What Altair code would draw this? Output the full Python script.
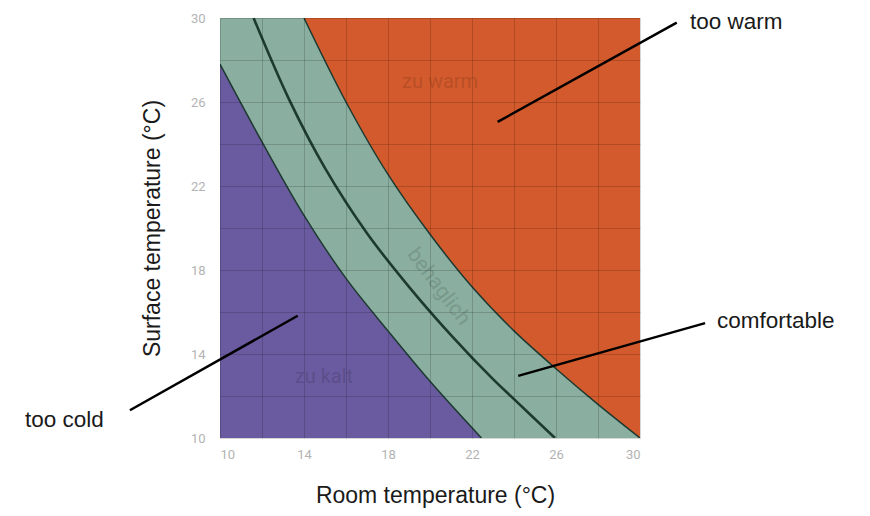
import altair as alt
import pandas as pd

# ---- data ----
grid_values = [10, 12, 14, 16, 18, 20, 22, 24, 26, 28, 30]

lower_x = [10, 12, 14, 16, 18, 20, 22.45]
lower_y = [27.8, 24.1, 20.6, 17.6, 15.1, 12.7, 10]

mid_x = [11.6, 13.3, 15, 17, 19, 21, 23, 24, 25.95]
mid_y = [30, 26.1, 22.85, 19.75, 17.2, 14.9, 12.8, 11.85, 10]

upper_x = [14, 16, 18, 20, 22, 24, 26, 28, 30]
upper_y = [30, 26, 22.55, 19.7, 17.2, 15.1, 13.3, 11.6, 10]

ann_labels = ["too warm", "comfortable", "too cold"]
ann_text_x = [32.38, 33.67, 0.71]
ann_text_y = [29.5, 15.24, 10.54]
ann_from_x = [23.22, 24.2, 13.7]
ann_from_y = [25.05, 12.96, 15.82]
ann_to_x = [31.75, 33.1, 5.71]
ann_to_y = [29.78, 15.47, 11.32]

region_labels = ["zu   warm", "zu   kalt"]
region_x = [20.48, 14.95]
region_y = [26.94, 12.91]
band_label = ["behaglich"]
band_x = [20.4]
band_y = [17.2]

PURPLE = "#6a5a9f"
GREEN = "#8aae9f"
ORANGE = "#d35a2c"
DARK = "#1d3a31"
CURVE = "catmull-rom"

lower = pd.DataFrame({"x": lower_x, "y": lower_y})
mid = pd.DataFrame({"x": mid_x, "y": mid_y})
upper = pd.DataFrame({"x": upper_x, "y": upper_y})
ann = pd.DataFrame({"label": ann_labels, "tx": ann_text_x, "ty": ann_text_y,
                    "fx": ann_from_x, "fy": ann_from_y, "ex": ann_to_x, "ey": ann_to_y})
reg = pd.DataFrame({"label": region_labels, "x": region_x, "y": region_y})
band = pd.DataFrame({"label": band_label, "x": band_x, "y": band_y})

label_expr = "datum.value % 4 == 2 ? datum.label : ''"
xscale = alt.Scale(domain=[10, 30], nice=False, zero=False)
yscale = alt.Scale(domain=[10, 30], nice=False, zero=False)

xaxis = alt.Axis(values=grid_values, labelExpr=label_expr, title="Room temperature (°C)",
                 ticks=False, domain=False, grid=True, gridColor="#000000", gridOpacity=0.16,
                 gridWidth=1, labelColor="#b3b3b3", labelFont="Roboto",
                 labelFontSize=13, labelPadding=10, zindex=1,
                 titleFont="Liberation Sans", titleFontSize=23, titleFontWeight="normal",
                 titleColor="#1a1a1a", titleX=215, titleY=64, titleBaseline="alphabetic",
                 titleAlign="center")
yaxis = alt.Axis(values=grid_values, labelExpr=label_expr, title="Surface temperature (°C)",
                 ticks=False, domain=False, grid=True, gridColor="#000000", gridOpacity=0.16,
                 gridWidth=1, labelColor="#b3b3b3", labelFont="Roboto",
                 labelFontSize=13, labelPadding=15, zindex=1,
                 titleFont="Liberation Sans", titleFontSize=23, titleFontWeight="normal",
                 titleColor="#1a1a1a", titleX=-68, titleY=210, titleBaseline="middle",
                 titleAlign="center", titleAngle=-90)

# green band: everything left of / below the upper boundary (horizontal area)
green_area = alt.Chart(upper).mark_area(color=GREEN, interpolate=CURVE, orient="horizontal",
                                        clip=True).encode(
    y=alt.Y("y:Q", scale=yscale, axis=yaxis),
    x=alt.X("x:Q", scale=xscale, axis=xaxis),
    x2=alt.datum(10),
)
purple_area = alt.Chart(lower).mark_area(color=PURPLE, interpolate=CURVE, clip=True).encode(
    x="x:Q", y="y:Q", y2=alt.datum(10)
)
lower_line = alt.Chart(lower).mark_line(color=DARK, strokeWidth=1.5, interpolate=CURVE, clip=True).encode(
    x="x:Q", y="y:Q")
upper_l = alt.Chart(upper).mark_line(color=DARK, strokeWidth=1.5, interpolate=CURVE, clip=True).encode(
    x="x:Q", y="y:Q")
mid_line = alt.Chart(mid).mark_line(color=DARK, strokeWidth=2.6, interpolate=CURVE, clip=True).encode(
    x="x:Q", y="y:Q")

reg_text = alt.Chart(reg).mark_text(font="Roboto", fontSize=20, color="#000000",
                                    opacity=0.12).encode(
    x="x:Q", y="y:Q", text="label:N")
band_text = alt.Chart(band).mark_text(font="Roboto", fontSize=21, color="#000000",
                                      opacity=0.12, angle=53).encode(
    x="x:Q", y="y:Q", text="label:N")

ann_rules = alt.Chart(ann).mark_rule(color="#000000", strokeWidth=2.5, clip=False).encode(
    x="fx:Q", y="fy:Q", x2="ex:Q", y2="ey:Q")
ann_text = alt.Chart(ann).mark_text(font="Liberation Sans", fontSize=22.5, color="#1a1a1a",
                                    align="left", baseline="alphabetic", clip=False).encode(
    x="tx:Q", y="ty:Q", text="label:N")

chart = alt.layer(green_area, purple_area, lower_line, upper_l, mid_line, reg_text, band_text,
                  ann_rules, ann_text).properties(
    width=420, height=420,
    autosize=alt.AutoSizeParams(type="none"),
    padding={"left": 212, "top": 10, "right": 220, "bottom": 70},
).configure_view(fill=ORANGE, strokeWidth=0)

chart.save("out.html", embed_options={"renderer": "svg", "actions": False})
